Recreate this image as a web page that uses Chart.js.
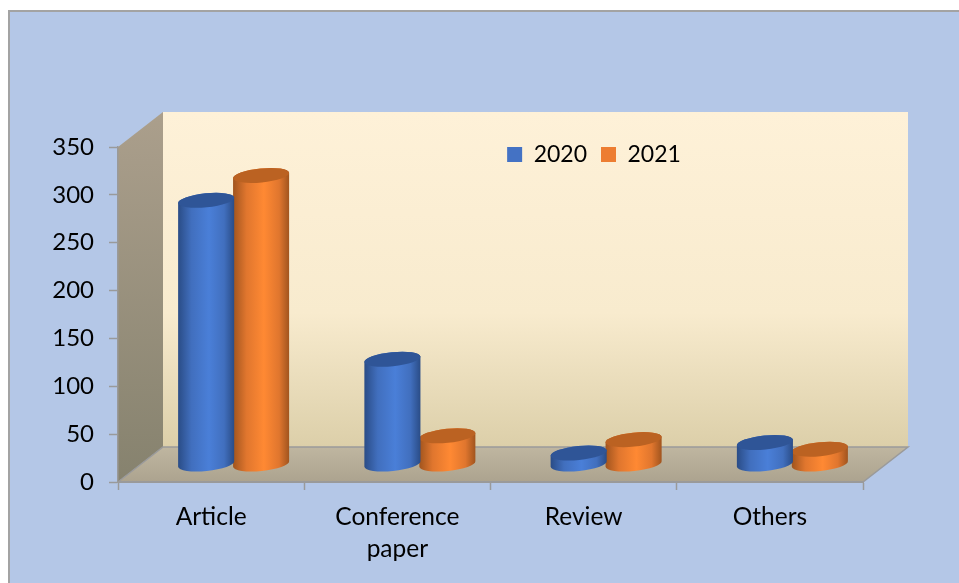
<!DOCTYPE html>
<html>
<head>
<meta charset="utf-8">
<script src="https://cdn.jsdelivr.net/npm/chart.js@4"></script>
<style>
  html, body { margin: 0; background: #fff; overflow: hidden; }
  #panel { position: absolute; left: 8px; top: 10px; width: 970px; height: 590px; background: #b4c7e7; border: 2px solid #a3a3a3; box-sizing: border-box; }
  #wrap { position: absolute; left: 0; top: 0; width: 959px; height: 583px; }
</style>
</head>
<body>
<div id="panel"></div>
<div id="wrap"><canvas id="chart"></canvas></div>
<script>
// data
const categories = ['Article', ['Conference', 'paper'], 'Review', 'Others'];
const values2020 = [276, 110, 12, 23];
const values2021 = [302, 30, 26, 16];
const yTicks = [0, 50, 100, 150, 200, 250, 300, 350];

const axisGray = '#9a9a9a';
const labelFont = 'Lato';
const depthX = 45, depthY = 35;     // box depth of the fake 3D
const capRy = 7, capTilt = -0.1;

const shades = {
    '#4472c4': { edge: '#2a4c86', soft: '#416fbe', mid: '#4a7fd8', cap: '#2f5597' },
    '#ed7d31': { edge: '#a0541e', soft: '#e0762e', mid: '#ff8933', cap: '#bb6222' }
};

const boxPlugin = {
    id: 'box3d',
    // back wall, side wall and floor, under everything else
    beforeDraw(chart) {
        const { ctx, chartArea: a } = chart;
        const backBottom = a.bottom - depthY;

        let g = ctx.createLinearGradient(0, a.top - depthY, 0, backBottom);
        g.addColorStop(0, '#fef1d8');
        g.addColorStop(0.6, '#f8ebce');
        g.addColorStop(1, '#dccfa9');
        ctx.fillStyle = g;
        ctx.fillRect(a.left + depthX, a.top - depthY, a.right - a.left, a.bottom - a.top);

        g = ctx.createLinearGradient(0, a.top - depthY, 0, a.bottom);
        g.addColorStop(0, '#ab9f8c');
        g.addColorStop(1, '#86826e');
        ctx.fillStyle = g;
        ctx.beginPath();
        ctx.moveTo(a.left, a.top);
        ctx.lineTo(a.left + depthX, a.top - depthY);
        ctx.lineTo(a.left + depthX, backBottom);
        ctx.lineTo(a.left, a.bottom);
        ctx.closePath();
        ctx.fill();

        g = ctx.createLinearGradient(0, backBottom, 0, a.bottom);
        g.addColorStop(0, '#bfb6a0');
        g.addColorStop(1, '#aca38f');
        ctx.fillStyle = g;
        ctx.strokeStyle = axisGray;
        ctx.lineWidth = 1.5;
        ctx.beginPath();
        ctx.moveTo(a.left, a.bottom);
        ctx.lineTo(a.left + depthX, backBottom);
        ctx.lineTo(a.right + depthX, backBottom);
        ctx.lineTo(a.right, a.bottom);
        ctx.closePath();
        ctx.fill();
        ctx.stroke();
    },
    // the bars stay in the middle of the box depth, drawn as cylinders
    beforeDatasetDraw(chart, args) {
        const { ctx } = chart;
        const meta = chart.getDatasetMeta(args.index);
        const s = shades[chart.data.datasets[args.index].backgroundColor];
        meta.data.forEach(bar => {
            const cx = bar.x + depthX / 2;
            const top = bar.y - depthY / 2;
            const base = bar.base - depthY / 2;
            const rx = bar.width / 2 + 0.7;

            const g = ctx.createLinearGradient(cx - rx, 0, cx + rx, 0);
            g.addColorStop(0, s.edge);
            g.addColorStop(0.24, s.soft);
            g.addColorStop(0.55, s.mid);
            g.addColorStop(0.82, s.soft);
            g.addColorStop(1, s.edge);
            ctx.fillStyle = g;
            ctx.beginPath();
            ctx.ellipse(cx, base, rx, capRy, capTilt, 0, Math.PI);
            ctx.ellipse(cx, top, rx, capRy, capTilt, Math.PI, Math.PI * 2);
            ctx.closePath();
            ctx.fill();

            ctx.fillStyle = s.cap;
            ctx.beginPath();
            ctx.ellipse(cx, top, rx, capRy, capTilt, 0, Math.PI * 2);
            ctx.fill();
        });
        return false;
    },
    // move the legend inside the box
    afterLayout(chart) {
        const l = chart.legend;
        const w = l.right - l.left, h = l.bottom - l.top;
        l.left = 594 - w / 2; l.right = l.left + w;
        l.top = 129; l.bottom = l.top + h;
        l.adjustHitBoxes();
    }
};

new Chart(document.getElementById('chart'), {
    type: 'bar',
    data: {
        labels: categories,
        datasets: [
            { label: '2020', data: values2020, backgroundColor: '#4472c4' },
            { label: '2021', data: values2021, backgroundColor: '#ed7d31' }
        ]
    },
    options: {
        responsive: true,
        maintainAspectRatio: false,
        animation: false,
        events: [],
        layout: { padding: { top: 100, left: 0, right: 96, bottom: 0 } },
        datasets: { bar: { categoryPercentage: 0.59, barPercentage: 1 } },
        plugins: {
            tooltip: { enabled: false },
            legend: {
                position: 'top',
                align: 'center',
                labels: {
                    color: '#000',
                    boxWidth: 15,
                    boxHeight: 15,
                    padding: 14,
                    font: { family: labelFont, size: 23 }
                }
            }
        },
        scales: {
            x: {
                afterFit: s => { s.height = 101; },
                grid: { drawOnChartArea: false, tickLength: 8, color: axisGray, tickWidth: 1.5, offset: true },
                border: { color: axisGray, width: 2 },
                ticks: { color: '#000', padding: 11, maxRotation: 0, autoSkip: false, font: { family: labelFont, size: 24.5, lineHeight: 1.31 } }
            },
            y: {
                min: 0,
                max: 350,
                afterFit: s => { s.width = 118; },
                afterBuildTicks: s => { s.ticks = yTicks.map(v => ({ value: v })); },
                grid: { drawOnChartArea: false, tickLength: 9, color: axisGray, tickWidth: 1.5 },
                border: { color: axisGray, width: 1.5 },
                ticks: { color: '#000', padding: 15, font: { family: labelFont, size: 24 } }
            }
        }
    },
    plugins: [boxPlugin]
});
</script>
</body>
</html>
